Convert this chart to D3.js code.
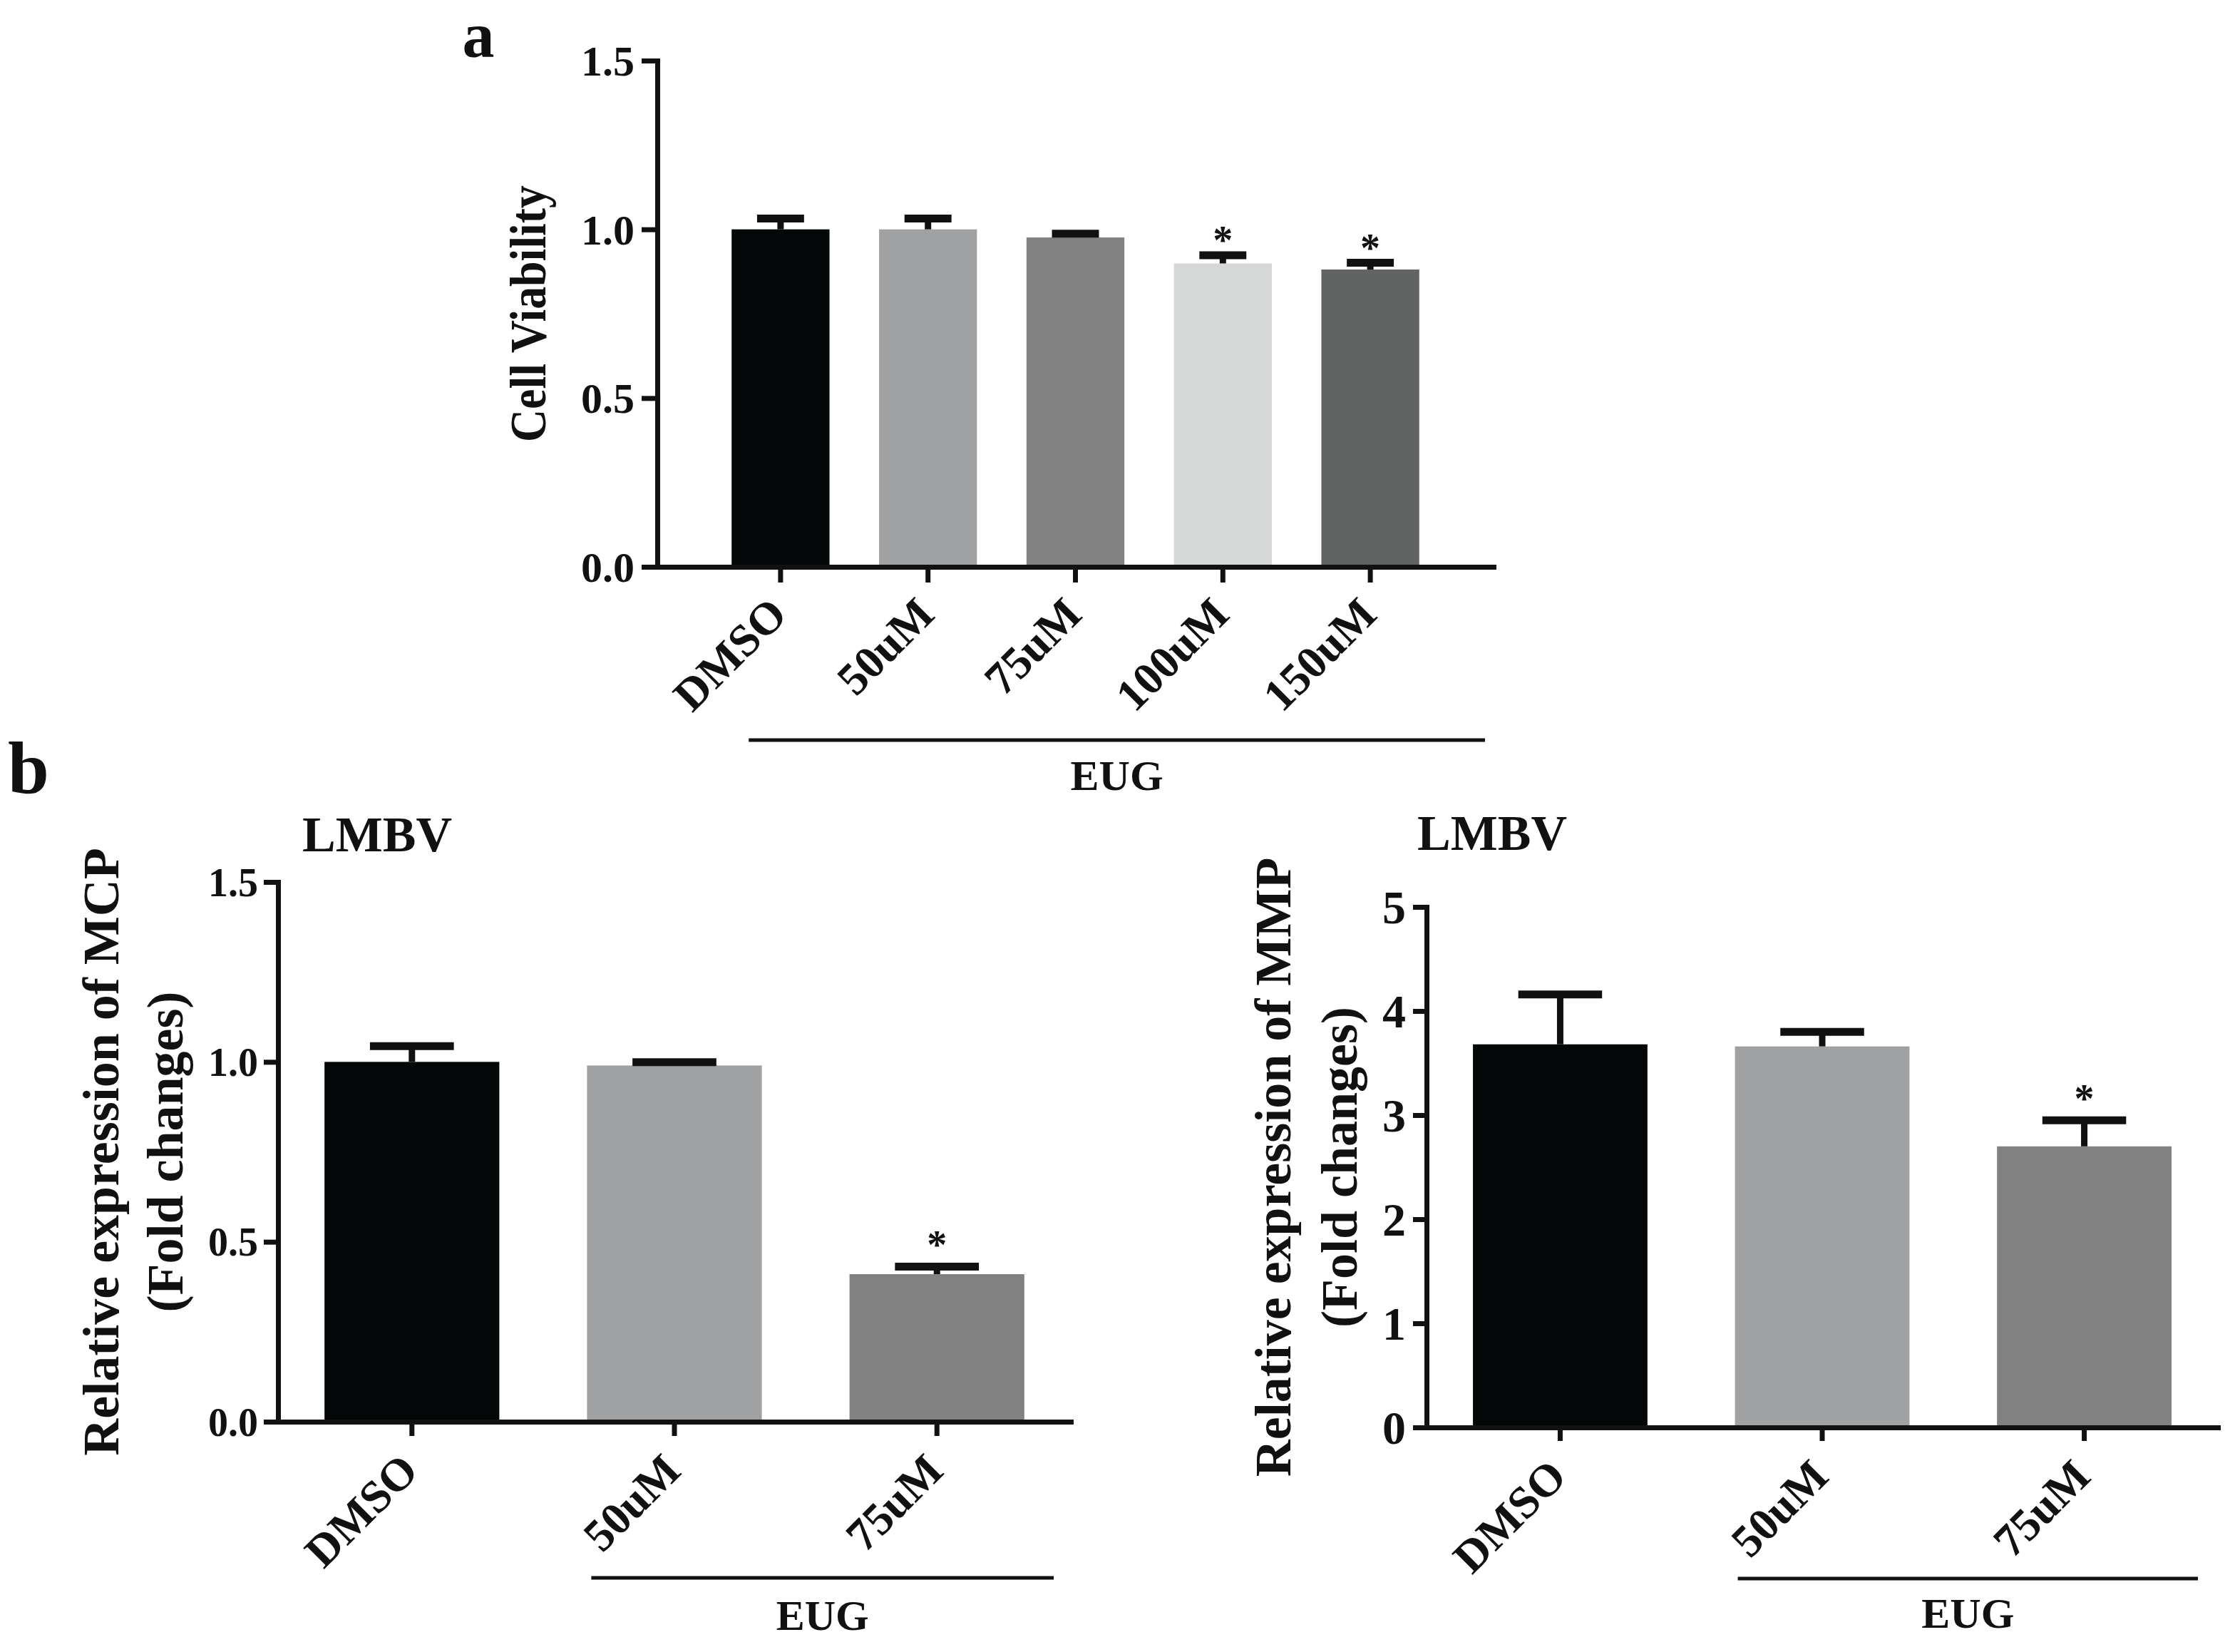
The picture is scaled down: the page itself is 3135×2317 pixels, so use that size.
<!DOCTYPE html>
<html>
<head>
<meta charset="utf-8">
<script src="https://cdn.jsdelivr.net/npm/d3@7"></script>
<style>
  body { margin: 0; background: #fff; }
  svg text { font-family: "Liberation Serif", "Times New Roman", serif; font-weight: bold; fill: #111; }
</style>
</head>
<body>
<script>
//Panel a: cell viability
var groupsA = ["DMSO", "50uM", "75uM", "100uM", "150uM"];
var viability = [1.00, 1.00, 0.976, 0.899, 0.881];
var viabilitySem = [0.032, 0.032, 0.011, 0.024, 0.020];
var viabilitySig = ["", "", "", "*", "*"];
var viabilityTicks = [0, 0.5, 1.0, 1.5];
var fillsA = ["#050808", "#a0a1a3", "#818181", "#d6d8d7", "#626463"];

//Panel b: viral gene expression
var groupsB = ["DMSO", "50uM", "75uM"];
var mcp = [1.00, 0.99, 0.41];
var mcpSem = [0.044, 0.009, 0.021];
var mcpSig = ["", "", "*"];
var mcpTicks = [0, 0.5, 1.0, 1.5];
var mmp = [3.68, 3.66, 2.70];
var mmpSem = [0.48, 0.14, 0.25];
var mmpSig = ["", "", "*"];
var mmpTicks = [0, 1, 2, 3, 4, 5];
var fillsB = ["#050808", "#a0a1a3", "#818181"];

var ink = "#111";

var svg = d3.select("body").append("svg")
        .attr("width", 3135)
        .attr("height", 2317);

function drawBars(o) {

    var x = d3.scaleBand()
            .domain(o.groups)
            .range([o.left, o.right])
            .paddingInner(o.padIn)
            .paddingOuter(o.padOut);

    var y = d3.scaleLinear()
            .domain([0, d3.max(o.ticks)])
            .range([o.bottom, o.top]);

    var rows = o.groups.map(function (d, i) {
        return {name: d, value: o.values[i], sem: o.sem[i], sig: o.sig[i], fill: o.fills[i]};
    });

    var g = svg.append("g");

    //Bars
    g.selectAll(".bar")
            .data(rows)
            .enter().append("rect")
            .attr("class", "bar")
            .attr("x", function (d) { return x(d.name); })
            .attr("y", function (d) { return y(d.value); })
            .attr("width", x.bandwidth())
            .attr("height", function (d) { return y(0) - y(d.value); })
            .attr("fill", function (d) { return d.fill; });

    //Error bars, upper half only
    var capW = x.bandwidth() * 0.48;
    var err = g.selectAll(".err")
            .data(rows)
            .enter().append("g")
            .attr("class", "err")
            .attr("stroke", ink)
            .attr("stroke-width", 9);

    err.append("line")
            .attr("x1", function (d) { return x(d.name) + x.bandwidth() / 2; })
            .attr("x2", function (d) { return x(d.name) + x.bandwidth() / 2; })
            .attr("y1", function (d) { return y(d.value); })
            .attr("y2", function (d) { return y(d.value + d.sem); });

    err.append("line")
            .attr("x1", function (d) { return x(d.name) + x.bandwidth() / 2 - capW / 2; })
            .attr("x2", function (d) { return x(d.name) + x.bandwidth() / 2 + capW / 2; })
            .attr("y1", function (d) { return y(d.value + d.sem); })
            .attr("y2", function (d) { return y(d.value + d.sem); })
            .attr("stroke-width", 11);

    //Significance stars
    g.selectAll(".star")
            .data(rows.filter(function (d) { return d.sig; }))
            .enter().append("text")
            .attr("class", "star")
            .attr("x", function (d) { return x(d.name) + x.bandwidth() / 2; })
            .attr("y", function (d) { return y(d.value + d.sem) - o.starGap; })
            .attr("text-anchor", "middle")
            .style("font-size", "56px")
            .text(function (d) { return d.sig; });

    //Y axis
    var yAxis = g.append("g")
            .attr("transform", "translate(" + o.left + ",0)")
            .call(d3.axisLeft(y)
                    .tickValues(o.ticks)
                    .tickFormat(o.fmt)
                    .tickSize(o.tickLen)
                    .tickSizeOuter(0)
                    .tickPadding(o.tickPad));

    yAxis.select(".domain").attr("stroke", ink).attr("stroke-width", 7).attr("stroke-linecap", "square");
    yAxis.selectAll(".tick line").attr("stroke", ink).attr("stroke-width", 7);
    yAxis.selectAll(".tick text")
            .attr("dy", "0.34em")
            .style("font-size", o.tickFont + "px");

    //X axis
    var xAxis = g.append("g")
            .attr("transform", "translate(0," + o.bottom + ")")
            .call(d3.axisBottom(x)
                    .tickSize(o.tickLen)
                    .tickSizeOuter(0));

    xAxis.select(".domain").attr("stroke", ink).attr("stroke-width", 7).attr("stroke-linecap", "square");
    xAxis.selectAll(".tick line").attr("stroke", ink).attr("stroke-width", 7);
    xAxis.selectAll(".tick text")
            .attr("x", 0)
            .attr("y", 0)
            .attr("dy", 0)
            .attr("text-anchor", "end")
            .attr("transform", "translate(" + o.lblDx + "," + o.lblDy + ") rotate(-45)")
            .style("font-size", o.lblFont + "px");

    //Y title, one or two lines
    var midY = (o.top + o.bottom) / 2;
    o.yTitle.forEach(function (line, i) {
        var t = g.append("text")
                .attr("transform", "translate(" + o.yTitleX[i] + "," + midY + ") rotate(-90)")
                .attr("text-anchor", "middle")
                .style("font-size", o.yTitleFont + "px")
                .text(line);
        if (o.yTitleLen) {
            t.attr("textLength", o.yTitleLen).attr("lengthAdjust", "spacingAndGlyphs");
        }
    });

    //Panel title
    if (o.title) {
        g.append("text")
                .attr("x", o.titleX)
                .attr("y", o.titleY)
                .attr("text-anchor", "middle")
                .style("font-size", "70px")
                .text(o.title);
    }

    //Treatment bracket
    var bx0 = x(o.bracketFrom) + o.bracketIn;
    var bx1 = o.right - o.bracketOut;
    g.append("line")
            .attr("x1", bx0)
            .attr("x2", bx1)
            .attr("y1", o.bracketY)
            .attr("y2", o.bracketY)
            .attr("stroke", ink)
            .attr("stroke-width", 5);

    g.append("text")
            .attr("x", (bx0 + bx1) / 2)
            .attr("y", o.bracketTextY)
            .attr("text-anchor", "middle")
            .style("font-size", "60px")
            .text("EUG");
}

drawBars({
    groups: groupsA, values: viability, sem: viabilitySem, sig: viabilitySig, fills: fillsA,
    ticks: viabilityTicks, fmt: d3.format(".1f"),
    left: 922, right: 2095, top: 85, bottom: 795, padIn: 0.336, padOut: 0.504,
    tickLen: 22, tickPad: 10, tickFont: 60, lblFont: 64, lblDx: 12, lblDy: 70,
    starGap: 2,
    yTitle: ["Cell Viability"], yTitleX: [765], yTitleFont: 72, yTitleLen: 360,
    bracketFrom: "DMSO", bracketIn: 24, bracketOut: 12, bracketY: 1038, bracketTextY: 1108
});

drawBars({
    groups: groupsB, values: mcp, sem: mcpSem, sig: mcpSig, fills: fillsB,
    ticks: mcpTicks, fmt: d3.format(".1f"),
    left: 390, right: 1502, top: 1237, bottom: 1994, padIn: 0.334, padOut: 0.177,
    tickLen: 20, tickPad: 8, tickFont: 56, lblFont: 64, lblDx: 12, lblDy: 72,
    starGap: 11,
    yTitle: ["Relative expression of MCP", "(Fold changes)"], yTitleX: [166, 256], yTitleFont: 72,
    title: "LMBV", titleX: 529, titleY: 1194,
    bracketFrom: "50uM", bracketIn: 6, bracketOut: 24, bracketY: 2213, bracketTextY: 2286
});

drawBars({
    groups: groupsB, values: mmp, sem: mmpSem, sig: mmpSig, fills: fillsB,
    ticks: mmpTicks, fmt: d3.format("d"),
    left: 2001, right: 3111, top: 1272, bottom: 2002, padIn: 0.334, padOut: 0.177,
    tickLen: 19, tickPad: 10, tickFont: 66, lblFont: 64, lblDx: 12, lblDy: 72,
    starGap: 11,
    yTitle: ["Relative expression of MMP", "(Fold changes)"], yTitleX: [1810, 1903], yTitleFont: 72,
    title: "LMBV", titleX: 2093, titleY: 1192,
    bracketFrom: "50uM", bracketIn: 4, bracketOut: 28, bracketY: 2214, bracketTextY: 2283
});

//Panel letters
svg.append("text").attr("x", 671).attr("y", 80).attr("text-anchor", "middle")
        .style("font-size", "90px").text("a");
svg.append("text").attr("x", 40).attr("y", 1112).attr("text-anchor", "middle")
        .style("font-size", "104px").text("b");
</script>
</body>
</html>
